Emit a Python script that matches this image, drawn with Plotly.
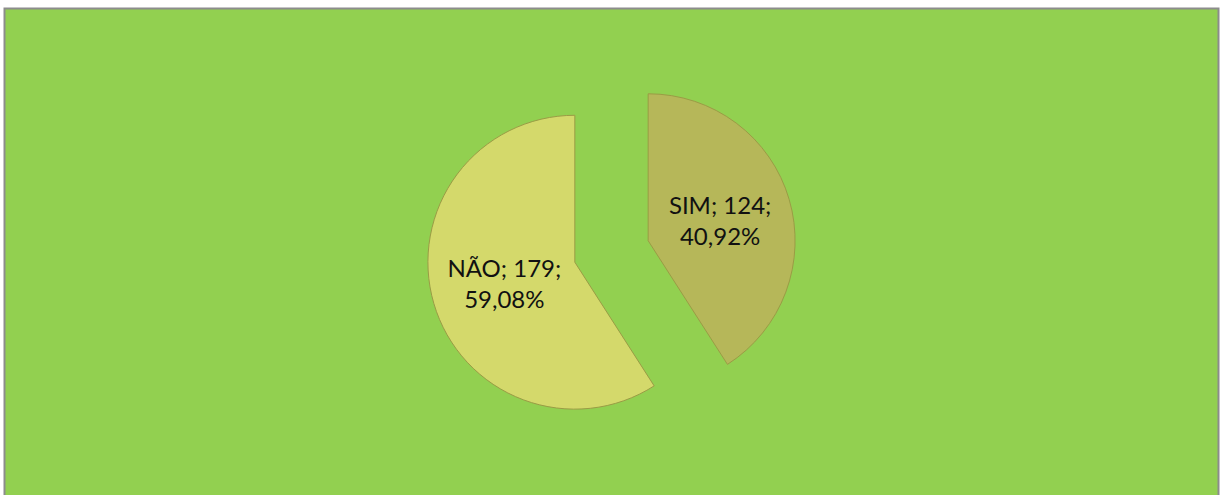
import plotly.graph_objects as go

# dados do gráfico
labels = ['SIM', 'NÃO']
values = [124, 179]
colors = ['#b6b759', '#d4d96b']

fig = go.Figure()

fig.add_trace(go.Pie(
    labels=labels,
    values=values,
    sort=False,
    direction='clockwise',
    rotation=0,
    pull=[0.26, 0.26],
    marker=dict(colors=colors, line=dict(color='#9a9c45', width=1)),
    texttemplate='%{label}; %{value};<br>%{percent:.2%}',
    textposition='inside',
    insidetextorientation='horizontal',
    textfont=dict(family='Lato, Open Sans, sans-serif', size=24, color='#111111'),
    domain=dict(x=[0, 1], y=[0.118, 0.866]),
    showlegend=False,
    hoverinfo='label+value+percent',
))

# moldura verde com borda cinza
fig.add_shape(
    type='rect', xref='paper', yref='paper',
    x0=4.5 / 1223, x1=1218.5 / 1223, y0=-0.05, y1=1 - 8.5 / 495,
    fillcolor='#92d050', line=dict(color='#8c8c8c', width=2),
    layer='below',
)

fig.update_layout(
    width=1223,
    height=495,
    margin=dict(l=0, r=0, t=0, b=0),
    paper_bgcolor='white',
    plot_bgcolor='white',
    separators=',.',
)

# sem margem do body, para a figura ocupar a janela inteira
fig.write_html(
    'out.html',
    config={'displayModeBar': False},
    post_script="document.body.style.margin='0';",
)
